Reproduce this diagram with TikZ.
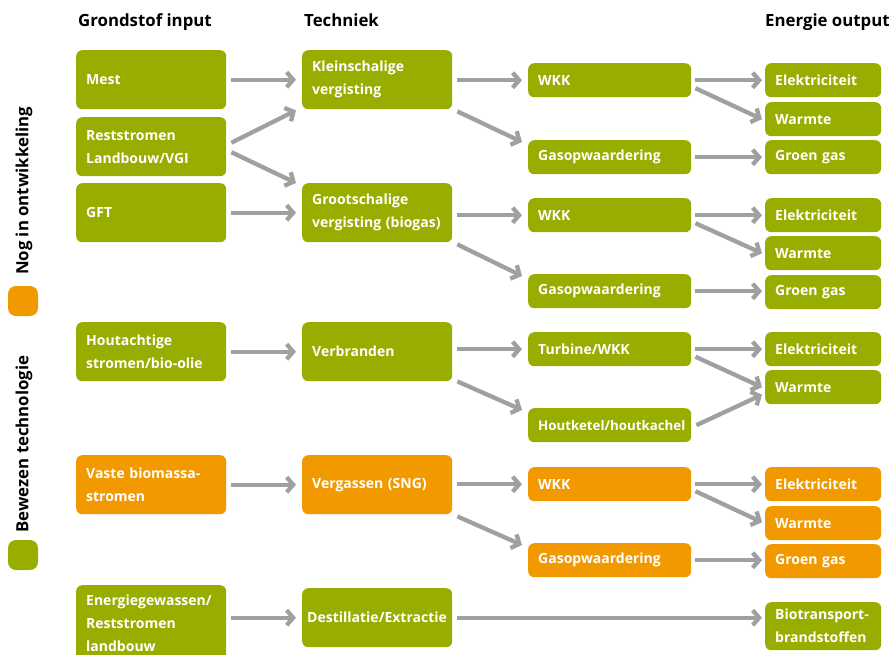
\documentclass[tikz,border=0pt]{standalone}
\usepackage{fontspec}
\setmainfont{Open Sans}
\usetikzlibrary{arrows.meta}
\definecolor{bgreen}{RGB}{153,173,0}
\definecolor{borange}{RGB}{242,153,0}
\definecolor{agray}{RGB}{160,160,160}
\tikzset{
  box/.style={rounded corners=6pt, text=white, anchor=north west, align=left,
    inner xsep=10pt, inner ysep=0pt, font=\bfseries\fontsize{14}{23}\selectfont},
  gbox/.style={box, fill=bgreen},
  obox/.style={box, fill=borange},
  cA/.style={text width=130pt, minimum height=59pt},
  cC/.style={text width=143pt, minimum height=34pt},
  cD/.style={text width=96pt, minimum height=34pt, inner xsep=10pt},
  arr/.style={draw=agray, line width=4.3pt, -{Straight Barb[length=6.5pt,width=15pt]}},
  hA/.style={arr, shorten <=5pt, shorten >=6pt},
  hB/.style={arr, shorten <=4pt, shorten >=3pt},
  head/.style={font=\bfseries\fontsize{16.8}{19}\selectfont, text=black, inner sep=0pt},
  leg/.style={rounded corners=8pt}
}
\begin{document}
\begin{tikzpicture}[x=1pt,y=-1pt]
\useasboundingbox (0,0) rectangle (892,654);
\clip (0,0) rectangle (892,654);
% headers
\node[head, anchor=base west] (h1) at (78,26) {Grondstof input};
\node[head, anchor=base west] (h2) at (304,26) {Techniek};
\node[head, anchor=base west] (h3) at (765,26) {Energie output};
% legend
\fill[leg, borange] (8,286) rectangle (38,316);
\fill[leg, bgreen] (8,540) rectangle (38,570);
\node[head, rotate=90] (l1) at (24,191) {Nog in ontwikkeling};
\node[head, rotate=90] (l2) at (24,444) {Bewezen technologie};
% column 1
\node[gbox, cA] (mest) at (76,50) {Mest};
\node[gbox, cA] (rest) at (76,117) {Reststromen\\Landbouw/VGI};
\node[gbox, cA] (gft) at (76,183) {GFT};
\node[gbox, cA] (hout) at (76,322) {Houtachtige\\stromen/bio-olie};
\node[obox, cA] (vaste) at (76,455) {Vaste biomassa-\\stromen};
\node[gbox, cA, minimum height=77pt] (energ) at (76,585) {Energiegewassen/\\Reststromen\\landbouw};
% column 2
\node[gbox, cA] (klein) at (302,50) {Kleinschalige\\vergisting};
\node[gbox, cA] (groot) at (302,183) {Grootschalige\\vergisting (biogas)};
\node[gbox, cA] (verbr) at (302,322) {Verbranden};
\node[obox, cA] (verg) at (302,455) {Vergassen (SNG)};
\node[gbox, cA, inner xsep=5pt, text width=140pt] (dest) at (302,588) {Destillatie/Extractie};
% column 3
\node[gbox, cC] (wkka) at (528,63) {WKK};
\node[gbox, cC] (gasa) at (528,140) {Gasopwaardering};
\node[gbox, cC] (wkkb) at (528,198) {WKK};
\node[gbox, cC] (gasb) at (528,274) {Gasopwaardering};
\node[gbox, cC] (turb) at (528,332) {Turbine/WKK};
\node[gbox, cC, font=\bfseries\fontsize{13.3}{23}\selectfont] (ketel) at (528,408) {\makebox[143pt][l]{Houtketel/houtkachel}};
\node[obox, cC] (wkkc) at (528,467) {WKK};
\node[obox, cC] (gasc) at (528,543) {Gasopwaardering};
% column 4
\node[gbox, cD] (ela) at (765,63) {Elektriciteit};
\node[gbox, cD] (wra) at (765,102) {Warmte};
\node[gbox, cD] (gga) at (765,140) {Groen gas};
\node[gbox, cD] (elb) at (765,198) {Elektriciteit};
\node[gbox, cD] (wrb) at (765,236) {Warmte};
\node[gbox, cD] (ggb) at (765,275) {Groen gas};
\node[gbox, cD] (elc) at (765,332) {Elektriciteit};
\node[gbox, cD] (wrc) at (765,370) {Warmte};
\node[obox, cD] (eld) at (765,467) {Elektriciteit};
\node[obox, cD] (wrd) at (765,506) {Warmte};
\node[obox, cD] (ggd) at (765,544) {Groen gas};
\node[gbox, cD, minimum height=48pt] (bio) at (765,602) {Biotransport-\\brandstoffen};
% connectors column 1 -> 2
\draw[hA] (mest.east) -- (mest.east -| klein.west);
\draw[arr] ([shift={(5,-4)}]rest.east) -- ([shift={(-6,1)}]klein.south west);
\draw[arr] ([shift={(5,5.5)}]rest.east) -- ([shift={(-6,0)}]groot.north west);
\draw[hA] (gft.east) -- (gft.east -| groot.west);
\draw[hA] (hout.east) -- (hout.east -| verbr.west);
\draw[hA] (vaste.east) -- (vaste.east -| verg.west);
\draw[hA] (dest.west -| energ.east) -- (dest.west);
% column 2 -> 3
\draw[hA] (wkka.west -| klein.east) -- (wkka.west);
\draw[arr] ([shift={(5,2)}]klein.south east) -- ([shift={(-6,2)}]gasa.north west);
\draw[hA] (wkkb.west -| groot.east) -- (wkkb.west);
\draw[arr] ([shift={(5,2)}]groot.south east) -- ([shift={(-6,2)}]gasb.north west);
\draw[hA] (turb.west -| verbr.east) -- (turb.west);
\draw[arr] ([shift={(5,0)}]verbr.south east) -- ([shift={(-6,2)}]ketel.north west);
\draw[hA] (wkkc.west -| verg.east) -- (wkkc.west);
\draw[arr] ([shift={(5,2)}]verg.south east) -- ([shift={(-6,2)}]gasc.north west);
\draw[arr, shorten <=5pt, shorten >=3pt] (dest.east) -- (dest.east -| bio.west);
% column 3 -> 4
\draw[hB] (wkka.east) -- (wkka.east -| ela.west);
\draw[arr] ([shift={(4,8)}]wkka.east) -- ([shift={(-3,0)}]wra.west);
\draw[hB] (gasa.east) -- (gasa.east -| gga.west);
\draw[hB] (wkkb.east) -- (wkkb.east -| elb.west);
\draw[arr] ([shift={(4,8)}]wkkb.east) -- ([shift={(-3,0)}]wrb.west);
\draw[hB] (gasb.east) -- (gasb.east -| ggb.west);
\draw[hB] (turb.east) -- (turb.east -| elc.west);
\draw[arr] ([shift={(4,7.5)}]turb.east) -- ([shift={(-3,0)}]wrc.west);
\draw[arr] ([shift={(5,0)}]ketel.east) -- ([shift={(-3,7.5)}]wrc.west);
\draw[hB] (wkkc.east) -- (wkkc.east -| eld.west);
\draw[arr] ([shift={(4,7)}]wkkc.east) -- ([shift={(-3,-1)}]wrd.west);
\draw[hB] (gasc.east) -- (gasc.east -| ggd.west);
\end{tikzpicture}
\end{document}
